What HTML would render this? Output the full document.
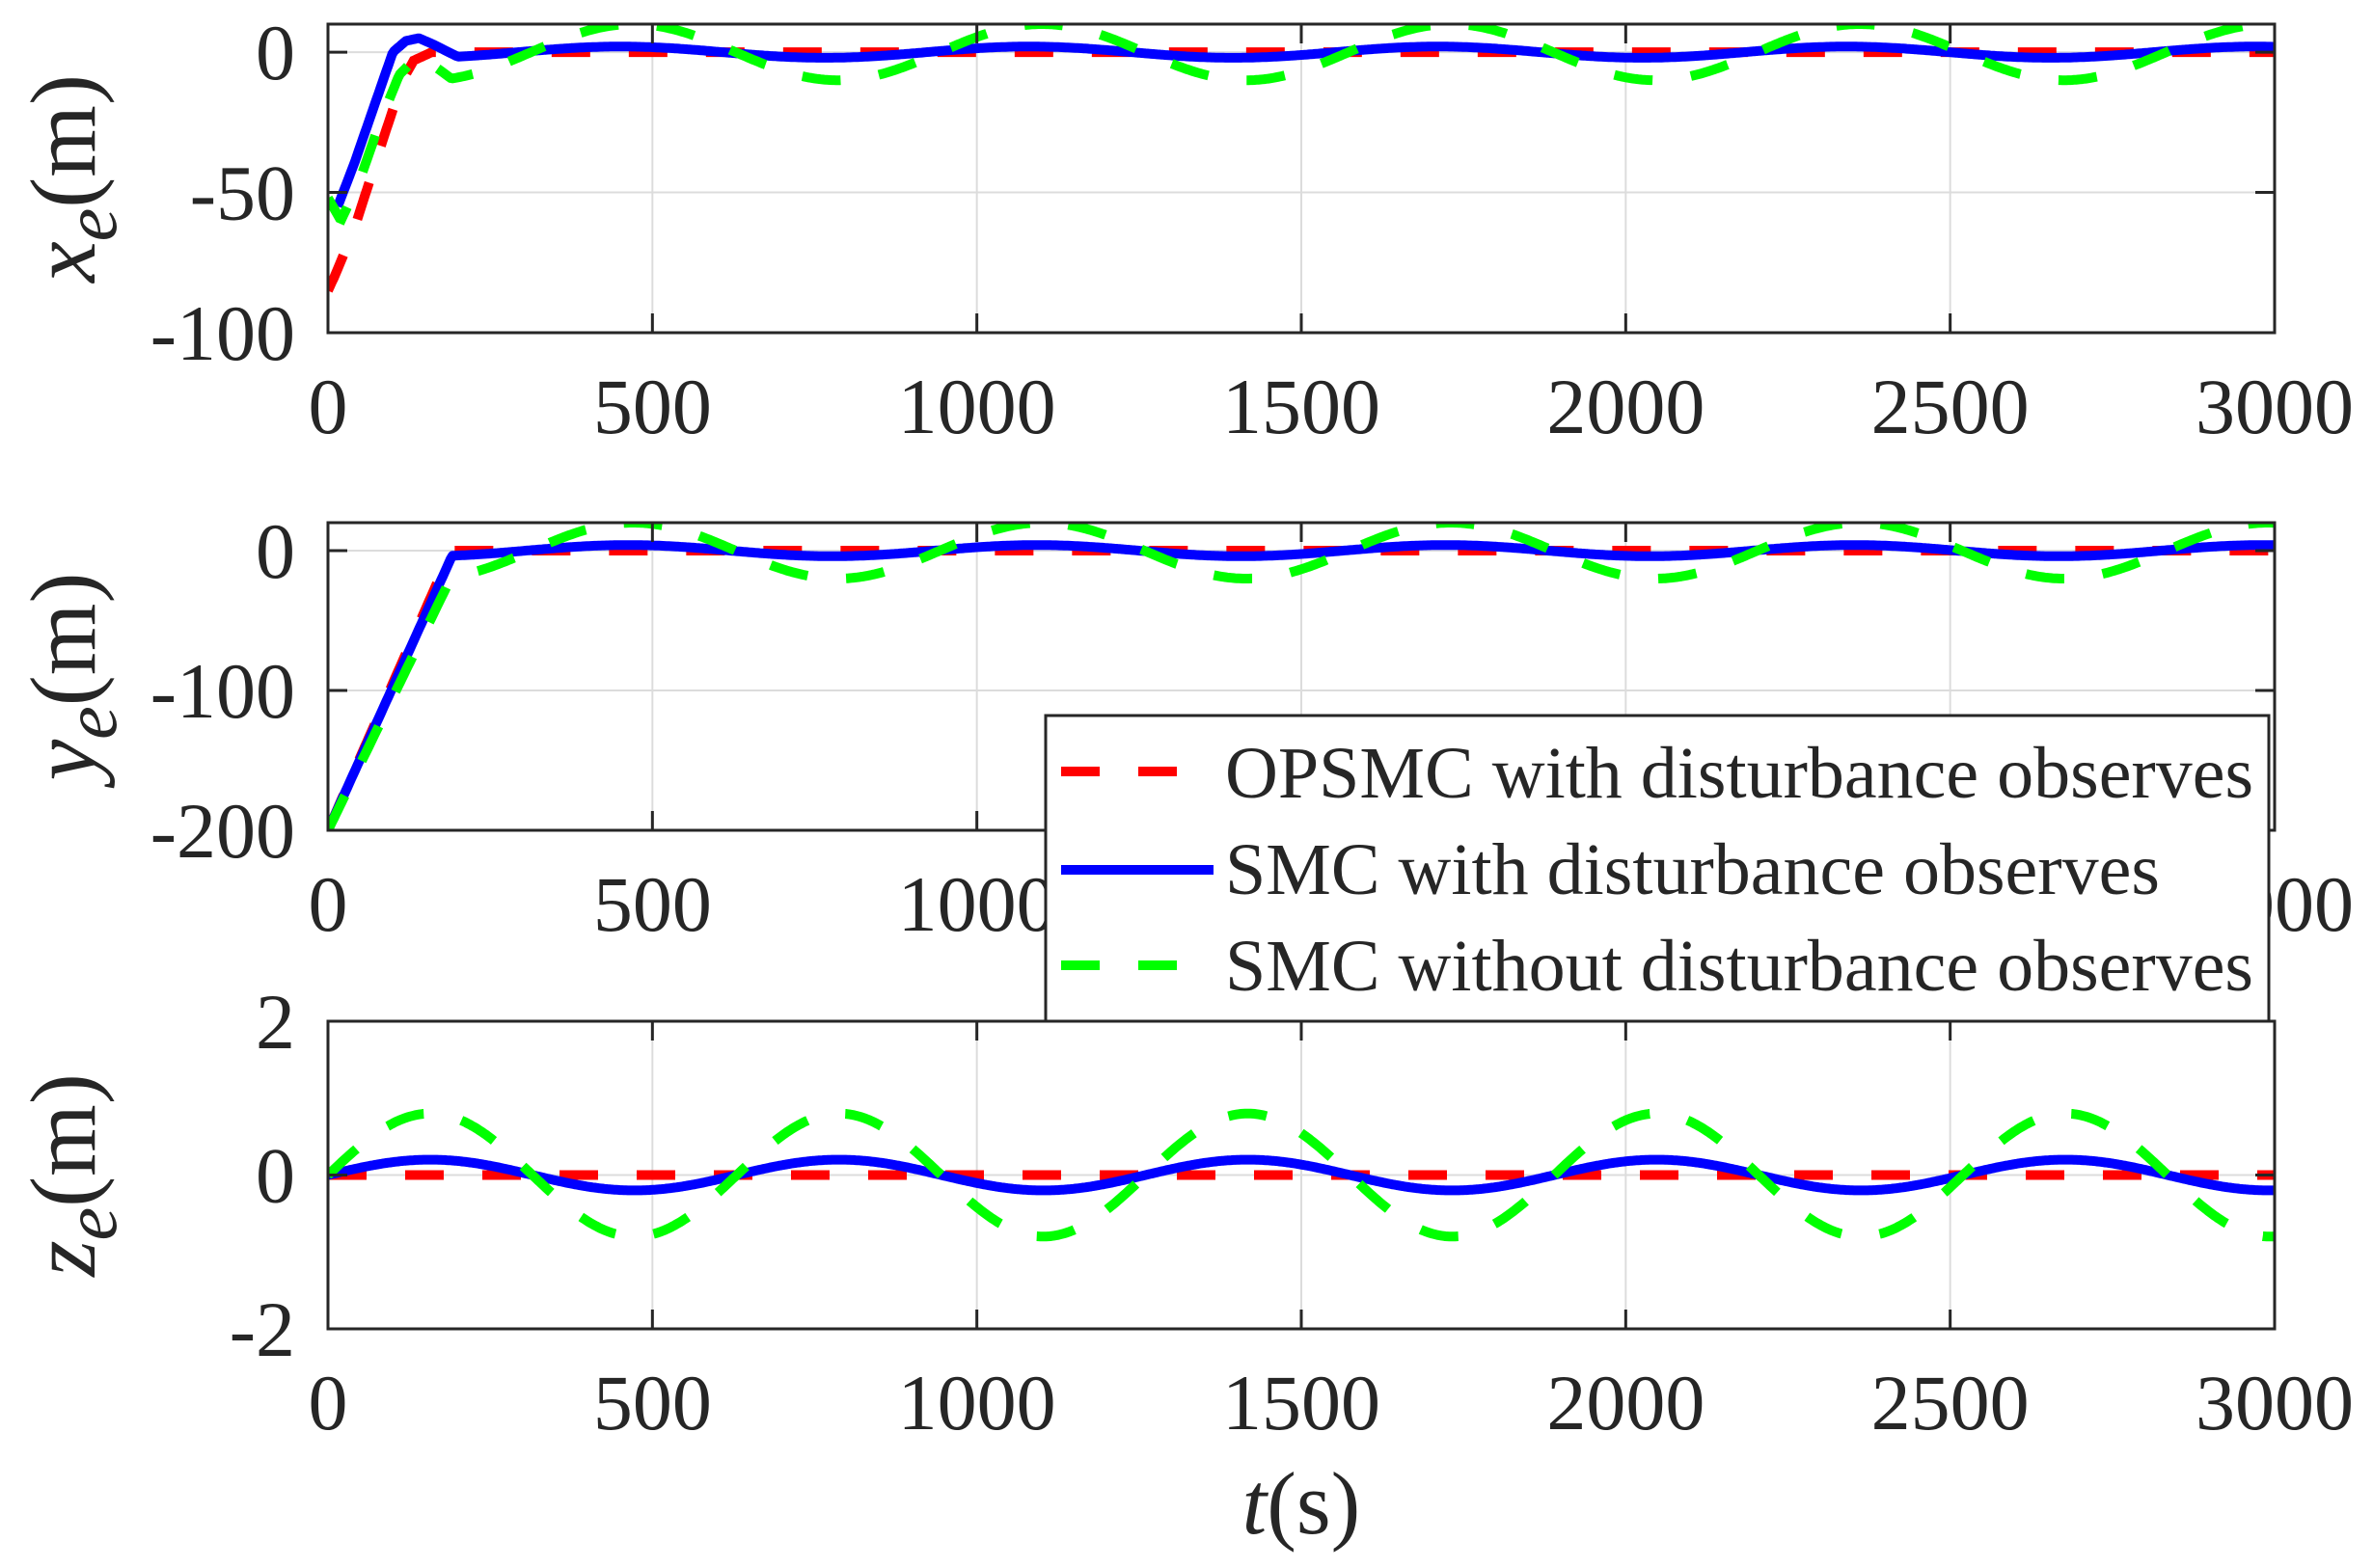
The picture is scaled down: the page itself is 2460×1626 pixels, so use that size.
<!DOCTYPE html>
<html><head><meta charset="utf-8"><style>
html,body{margin:0;padding:0;background:#fff;}
svg{display:block;}
text{font-family:"Liberation Serif",serif;fill:#262626;}
</style></head><body>
<svg id="s" width="2460" height="1626" viewBox="0 0 2460 1626" xmlns="http://www.w3.org/2000/svg">
<defs>
<clipPath id="c1"><rect x="340" y="25" width="2018" height="320"/></clipPath>
<clipPath id="c2"><rect x="340" y="542" width="2018" height="319"/></clipPath>
<clipPath id="c3"><rect x="340" y="1059" width="2018" height="319"/></clipPath>
</defs>
<g id="g"></g>
</svg>
<script>
var g=document.getElementById('g');
var NS='http://www.w3.org/2000/svg';
function el(t,a,txt){var e=document.createElementNS(NS,t);for(var k in a)e.setAttribute(k,a[k]);if(txt!==undefined)e.textContent=txt;g.appendChild(e);return e;}
var L=340,R=2358,W=R-L;
function X(t){return L+t*W/3000;}
function interp(pts,t){for(var i=0;i<pts.length-1;i++){if(t<=pts[i+1][0]){var a=pts[i],b=pts[i+1];return a[1]+(b[1]-a[1])*(t-a[0])/(b[0]-a[0]);}}return pts[pts.length-1][1];}
var P=2*Math.PI/630;
var plots=[
 {top:25,bot:345,vmax:10,vmin:-100,ticks:[0,-50,-100],clip:'c1',
  red:function(t){return t<160?interp([[0,-85],[10,-80],[39,-64],[85,-31],[115,-10],[132,-3],[160,0]],t):0;},rs:0,
  blue:function(t){return t<200?interp([[15,-55],[40,-40],[70,-20],[100,0],[120,4],[140,5],[160,3],[200,-1.6]],t):2*Math.sin(P*(t-293));},bs:15,
  green:function(t){return t<190?interp([[0,-52],[20,-60],[50,-45],[80,-25],[110,-8],[140,-1],[170,-6],[190,-9.4]],t):10*Math.sin(P*(t-313));},gs:0},
 {top:542,bot:861,vmax:20,vmin:-200,ticks:[0,-100,-200],clip:'c2',
  red:function(t){return t<190?-200+200*t/190:0;},rs:0,
  blue:function(t){return t<190?-200+195*t/190:4*Math.sin(P*(t-305));},bs:0,
  green:function(t){return t<190?-200+181*t/190:20*Math.sin(P*(t-313));},gs:0},
 {top:1059,bot:1378,vmax:2,vmin:-2,ticks:[2,0,-2],clip:'c3',
  red:function(t){return 0;},rs:0,
  blue:function(t){return 0.2*Math.sin(P*t);},bs:0,
  green:function(t){return 0.8*Math.sin(P*t);},gs:0}
];
var labels=[['x','e'],['y','e'],['z','e']];
plots.forEach(function(p,i){
 function Y(v){return p.top+(p.vmax-v)*(p.bot-p.top)/(p.vmax-p.vmin);}
 // grid
 for(var t=500;t<3000;t+=500) el('line',{x1:X(t),x2:X(t),y1:p.top,y2:p.bot,stroke:'#dcdcdc','stroke-width':2});
 p.ticks.forEach(function(v){var y=Y(v);if(y>p.top+2&&y<p.bot-2)el('line',{x1:L,x2:R,y1:y,y2:y,stroke:'#dcdcdc','stroke-width':2});});
 // series
 function path(f,s){var d='';for(var t=s;t<=3000;t+=3){d+=(d?'L':'M')+X(t).toFixed(1)+','+Y(f(t)).toFixed(1);}return d;}
 el('path',{d:path(p.red,p.rs),fill:'none',stroke:'#ff0000','stroke-width':10,'stroke-dasharray':'40 40','clip-path':'url(#'+p.clip+')'});
 el('path',{d:path(p.blue,p.bs),fill:'none',stroke:'#0000ff','stroke-width':10,'stroke-linejoin':'round','clip-path':'url(#'+p.clip+')'});
 el('path',{d:path(p.green,p.gs),fill:'none',stroke:'#00ff00','stroke-width':10,'stroke-dasharray':'40 40','clip-path':'url(#'+p.clip+')'});
 // axes box
 el('rect',{x:L,y:p.top,width:W,height:p.bot-p.top,fill:'none',stroke:'#262626','stroke-width':3});
 // ticks
 for(var t=0;t<=3000;t+=500){el('line',{x1:X(t),x2:X(t),y1:p.bot,y2:p.bot-20,stroke:'#262626','stroke-width':3});el('line',{x1:X(t),x2:X(t),y1:p.top,y2:p.top+20,stroke:'#262626','stroke-width':3});
  el('text',{x:X(t),y:p.bot+104,'font-size':82,'text-anchor':'middle'},String(t));}
 p.ticks.forEach(function(v){var y=Y(v);el('line',{x1:L,x2:L+20,y1:y,y2:y,stroke:'#262626','stroke-width':3});el('line',{x1:R,x2:R-20,y1:y,y2:y,stroke:'#262626','stroke-width':3});
  el('text',{x:306,y:y+28,'font-size':82,'text-anchor':'end'},String(v));});
 // ylabel
 var cy=(p.top+p.bot)/2;
 var tx=el('text',{x:0,y:0,'font-size':96,'text-anchor':'middle',transform:'translate(98,'+cy+') rotate(-90)'});
 var a=document.createElementNS(NS,'tspan');a.setAttribute('font-style','italic');a.textContent=labels[i][0];tx.appendChild(a);
 var b=document.createElementNS(NS,'tspan');b.setAttribute('font-style','italic');b.setAttribute('dy','22');b.setAttribute('font-size','78');b.textContent=labels[i][1];tx.appendChild(b);
 var c=document.createElementNS(NS,'tspan');c.setAttribute('dy','-22');c.textContent='(m)';tx.appendChild(c);
});
// xlabel
var xl=el('text',{x:1349,y:1590,'font-size':92,'text-anchor':'middle'});
var t1=document.createElementNS(NS,'tspan');t1.setAttribute('font-style','italic');t1.textContent='t';xl.appendChild(t1);
var t2=document.createElementNS(NS,'tspan');t2.textContent='(s)';xl.appendChild(t2);
// legend
el('rect',{x:1084,y:742,width:1268,height:317,fill:'#fff',stroke:'#262626','stroke-width':3});
el('line',{x1:1100,x2:1258,y1:800,y2:800,stroke:'#ff0000','stroke-width':10,'stroke-dasharray':'40 40'});
el('line',{x1:1100,x2:1258,y1:902,y2:902,stroke:'#0000ff','stroke-width':10});
el('line',{x1:1100,x2:1258,y1:1001,y2:1001,stroke:'#00ff00','stroke-width':10,'stroke-dasharray':'40 40'});
el('text',{x:1270,y:827,'font-size':76,fill:'#000'},'OPSMC with disturbance observes');
el('text',{x:1270,y:927,'font-size':76,fill:'#000'},'SMC with disturbance observes');
el('text',{x:1270,y:1027,'font-size':76,fill:'#000'},'SMC without disturbance observes');
</script>
</body></html>
